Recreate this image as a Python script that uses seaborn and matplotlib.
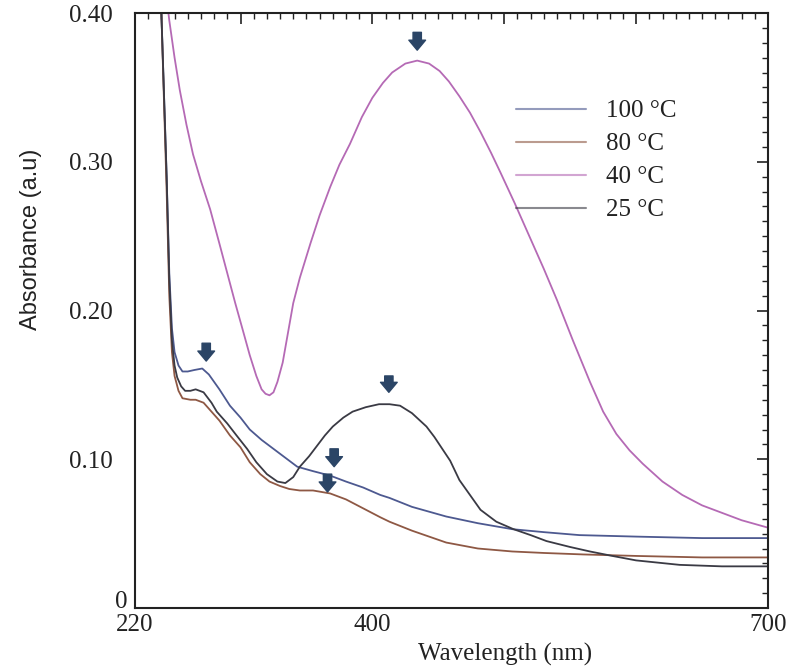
import numpy as np
import pandas as pd
import matplotlib
matplotlib.use("Agg")
import matplotlib.pyplot as plt
import matplotlib.transforms as mtransforms
import seaborn as sns
from matplotlib.ticker import MultipleLocator, FixedLocator

# ---- data ----
wl_100 = [226, 236, 240, 244, 246, 248, 250, 253, 256, 260, 265, 271, 276, 284, 292, 300, 307, 316,
          325, 334, 343, 355, 368, 380, 393, 406, 413, 430, 456, 480, 506, 530, 557, 600, 650, 700]
abs_100 = [0.60, 0.46, 0.40, 0.29, 0.225, 0.188, 0.172, 0.163, 0.159, 0.159, 0.160, 0.161, 0.157,
           0.147, 0.136, 0.128, 0.120, 0.113, 0.107, 0.101, 0.095, 0.092, 0.089, 0.085, 0.081,
           0.076, 0.074, 0.068, 0.0615, 0.057, 0.053, 0.051, 0.049, 0.048, 0.047, 0.047]

wl_80 = [226, 236, 240, 244, 246, 248, 250, 253, 256, 262, 266, 272, 278, 284, 292, 300, 307, 315,
         322, 330, 337, 345, 355, 368, 380, 393, 406, 413, 430, 456, 480, 506, 530, 560, 600, 650, 700]
abs_80 = [0.60, 0.46, 0.40, 0.28, 0.21, 0.172, 0.156, 0.146, 0.141, 0.140, 0.140, 0.138, 0.132,
          0.126, 0.116, 0.108, 0.098, 0.090, 0.085, 0.082, 0.080, 0.079, 0.079, 0.077, 0.073,
          0.067, 0.061, 0.058, 0.052, 0.044, 0.040, 0.038, 0.037, 0.036, 0.035, 0.034, 0.034]

wl_40 = [232, 240, 246, 250, 254, 259, 264, 270, 277, 284, 290, 296, 302, 307, 312, 316, 319, 322,
         325, 328, 332, 336, 340, 345, 353, 360, 368, 375, 383, 392, 400, 408, 415, 425, 434, 443,
         451, 458, 466, 474, 482, 490, 497, 508, 519, 530, 540, 552, 565, 575, 585, 595, 605, 620,
         635, 650, 665, 680, 700]
abs_40 = [0.48, 0.44, 0.395, 0.370, 0.348, 0.325, 0.305, 0.287, 0.268, 0.245, 0.225, 0.205, 0.186,
          0.170, 0.156, 0.147, 0.144, 0.143, 0.145, 0.152, 0.165, 0.185, 0.205, 0.222, 0.245, 0.264,
          0.283, 0.298, 0.312, 0.330, 0.343, 0.353, 0.360, 0.366, 0.368, 0.366, 0.361, 0.354, 0.344,
          0.333, 0.320, 0.306, 0.293, 0.272, 0.250, 0.228, 0.207, 0.180, 0.152, 0.132, 0.117, 0.106,
          0.097, 0.085, 0.076, 0.069, 0.064, 0.059, 0.054]

wl_25 = [226, 236, 240, 244, 246, 248, 250, 252, 255, 258, 262, 266, 272, 278, 282, 290, 297, 305,
         312, 320, 328, 334, 340, 345, 352, 358, 364, 370, 378, 385, 395, 405, 413, 421, 430, 441,
         447, 453, 459, 466, 474, 482, 494, 507, 520, 532, 550, 565, 582, 600, 633, 665, 700]
abs_25 = [0.60, 0.46, 0.40, 0.29, 0.22, 0.180, 0.163, 0.155, 0.149, 0.146, 0.146, 0.147, 0.145,
          0.138, 0.132, 0.124, 0.116, 0.107, 0.098, 0.090, 0.085, 0.084, 0.088, 0.095, 0.102, 0.109,
          0.116, 0.122, 0.128, 0.132, 0.135, 0.137, 0.137, 0.136, 0.131, 0.122, 0.115, 0.107, 0.099,
          0.086, 0.076, 0.066, 0.058, 0.053, 0.049, 0.045, 0.041, 0.038, 0.035, 0.032, 0.029, 0.028,
          0.028]

series_labels = ["100 °C", "80 °C", "40 °C", "25 °C"]

# arrow markers (wavelength, top, tip)
arrow_x = [434, 274, 412.5, 371, 366]
arrow_top = [0.387, 0.178, 0.156, 0.107, 0.090]
arrow_tip = [0.375, 0.166, 0.145, 0.095, 0.078]

x_tick_values = [220, 300, 400, 500, 600, 700]
x_tick_labels = ["220", "", "400", "", "", "700"]
y_tick_values = [0, 0.10, 0.20, 0.30, 0.40]
y_tick_labels = ["0", "0.10", "0.20", "0.30", "0.40"]

# ---- build table ----
frames = []
for lab, w, a in zip(series_labels, [wl_100, wl_80, wl_40, wl_25], [abs_100, abs_80, abs_40, abs_25]):
    frames.append(pd.DataFrame({"wl": w, "abs": a, "temp": lab}))
df = pd.concat(frames, ignore_index=True)

sns.set_style("white")
plt.rcParams["font.family"] = ["Liberation Serif", "DejaVu Serif"]

palette = {"100 °C": "#4d5990", "80 °C": "#8e5844", "40 °C": "#b56ab5", "25 °C": "#3a3a44"}

fig = plt.figure(figsize=(7.89, 6.69), dpi=100)
ax = fig.add_axes([135 / 789, 1 - 608 / 669, (768 - 135) / 789, (608 - 13) / 669])

sns.lineplot(data=df, x="wl", y="abs", hue="temp", hue_order=series_labels, palette=palette,
             sort=False, estimator=None, units="temp", linewidth=1.3, ax=ax)

ax.set_xlim(220, 700)
ax.set_ylim(0, 0.40)

for xa, yt, yb in zip(arrow_x, arrow_top, arrow_tip):
    ax.annotate("", xy=(xa, yb), xytext=(xa, yt),
                arrowprops=dict(arrowstyle="simple,head_width=1.0,head_length=0.6,tail_width=0.5",
                                color="#2b4566", shrinkA=0, shrinkB=0, mutation_scale=12))

ax.xaxis.set_major_locator(FixedLocator(x_tick_values))
ax.set_xticklabels(x_tick_labels)
ax.xaxis.set_minor_locator(MultipleLocator(10))
ax.yaxis.set_major_locator(FixedLocator(y_tick_values))
ax.set_yticklabels(y_tick_labels)
ax.yaxis.set_minor_locator(MultipleLocator(0.01))

ax.tick_params(which="both", direction="in", top=True, right=True, colors="#222222",
               labelcolor="#222222", labelsize=18)
ax.tick_params(which="major", length=8, width=1.2)
ax.tick_params(which="minor", length=4, width=1.0)
ax.tick_params(axis="y", pad=16)
ax.tick_params(axis="x", pad=4)
for s in ax.spines.values():
    s.set_linewidth(1.5)
    s.set_color("#222222")

# the "0" label sits closer to the axis in the reference
zero_lbl = ax.get_yticklabels()[0]
zero_lbl.set_transform(zero_lbl.get_transform() +
                       mtransforms.ScaledTranslation(0.15, 0.09, fig.dpi_scale_trans))

ax.set_xlabel("Wavelength (nm)", fontsize=18, color="#222222")
ax.set_ylabel("Absorbance (a.u)", fontsize=17, color="#222222",
              family=["Liberation Sans Narrow", "Liberation Sans", "DejaVu Sans"])
ax.xaxis.set_label_coords(0.585, -0.058)
ax.yaxis.set_label_coords(-0.147, 0.62)

leg = ax.legend(loc="upper left", bbox_to_anchor=(0.566, 0.892), frameon=False, fontsize=18,
                handlelength=2.8, handletextpad=0.8, labelspacing=0.42)
for h in leg.get_lines():
    h.set_alpha(0.6)
    h.set_linewidth(1.5)
for t in leg.get_texts():
    t.set_color("#222222")

fig.savefig("out.png", dpi=100)
